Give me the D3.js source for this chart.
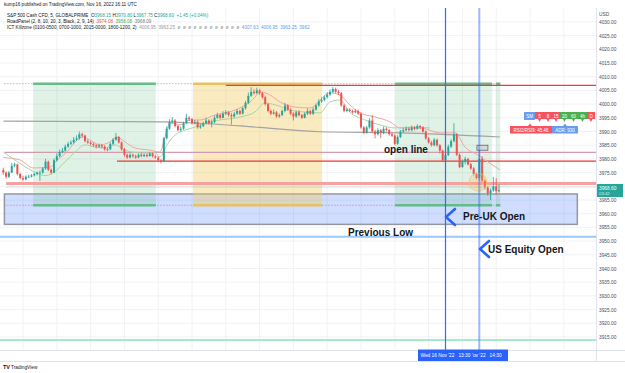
<!DOCTYPE html>
<html>
<head>
<meta charset="utf-8">
<script src="https://cdn.jsdelivr.net/npm/d3@7"></script>
<style>
  body { margin: 0; background: #fff; }
  svg { display: block; font-family: "Liberation Sans", Arial, sans-serif; }
</style>
</head>
<body>
<div id="chart"></div>
<script>
// 5 minute bars, first bar at 00:25
const firstBarHour = 25 / 60;
const barHours = 5 / 60;
const firstOpen = 3976;

const closes = [
  3975, 3973.5, 3975, 3977.5, 3978, 3974.5, 3973, 3972.5, 3973.5, 3973.5, 3974, 3974.5,
  3975, 3975, 3976.5, 3979, 3976, 3975, 3979.5, 3981, 3982.5, 3983, 3984.5, 3985.5,
  3986, 3987, 3987.5, 3989, 3988.5, 3986.5, 3986, 3985.5, 3985, 3984.5, 3985, 3984.5,
  3983.5, 3983.5, 3985.5, 3987, 3988, 3986, 3983.5, 3981.5, 3980.5, 3981.5, 3981, 3980.5,
  3981.5, 3981, 3981.5, 3981, 3982, 3981, 3980.5, 3979.5, 3979, 3987.5, 3991, 3993.5,
  3994, 3992, 3990.5, 3991, 3993, 3995, 3994.5, 3993, 3993.5, 3991.5, 3992, 3993,
  3994, 3993, 3993.5, 3995, 3996, 3995, 3996.5, 3997, 3996, 3995.5, 3996.5, 3997.5,
  3996.5, 3998.5, 4000.5, 4003, 4004.5, 4004, 4005, 4004, 4002.5, 4000, 3997.5, 3996.5,
  3997, 3995.5, 3996, 3997.5, 3999.5, 3998, 3996.5, 3995.5, 3997, 3996, 3995, 3996.5,
  3997.5, 3996.5, 3998, 3999.5, 4001, 4001.5, 4002.5, 4003.5, 4004.5, 4005.5, 4004.5, 4004,
  3999.5, 3997.5, 3998, 3997.5, 3997, 3997.5, 3996.5, 3991.5, 3989.5, 3991.5, 3994, 3990,
  3989, 3990.5, 3989.5, 3991, 3990.5, 3989, 3988.5, 3985.5, 3988, 3990, 3990.5, 3991,
  3990.5, 3991.5, 3991, 3992, 3991.5, 3990, 3987.5, 3986, 3985, 3987, 3985, 3983,
  3979.5, 3981.5, 3984.5, 3986.5, 3989, 3981.5, 3977, 3979, 3980, 3978, 3976.5, 3974.5,
  3973, 3980, 3972, 3969.5, 3967.5, 3968.5, 3970, 3968.2, 3968.6
];
const highs = [
  3976.8, 3975.5, 3975.6, 3978.5, 3978.6, 3978.3, 3975, 3973.8, 3974, 3974.2, 3974.5, 3975,
  3975.4, 3975.8, 3977, 3980, 3979.4, 3976.5, 3980.2, 3982, 3983.4, 3984, 3985.2, 3986.2,
  3986.8, 3988, 3988.6, 3990, 3989.6, 3988.8, 3987.2, 3986.5, 3986, 3985.4, 3985.6, 3985.5,
  3985, 3984.2, 3986, 3987.6, 3989.5, 3988.4, 3986.4, 3984, 3982, 3982.2, 3982, 3981.6,
  3982, 3982.2, 3982, 3982, 3982.5, 3982.4, 3981.5, 3981, 3980, 3988, 3991.8, 3994.5,
  3995.2, 3994.5, 3992.4, 3991.8, 3993.6, 3996.5, 3995.6, 3995, 3994.2, 3994, 3992.8, 3993.6,
  3995, 3994.5, 3994.4, 3995.8, 3996.8, 3996.4, 3997.4, 3997.8, 3997.5, 3996.8, 3997.2, 3998.2,
  3998, 3999, 4001.2, 4004.2, 4006.2, 4005.4, 4006, 4005.6, 4004.4, 4003, 4000.4, 3998,
  3998, 3997.5, 3996.6, 3998, 4000.5, 4000, 3998.4, 3997, 3997.6, 3997.8, 3996.4, 3997,
  3998.4, 3998, 3998.8, 4000.2, 4001.8, 4002.5, 4003.2, 4004.4, 4005.4, 4006.2, 4006, 4005.2,
  4004.4, 4000, 3998.6, 3998.5, 3998, 3998.2, 3998, 3997, 3992, 3992, 3994.8, 3996,
  3990.6, 3991.2, 3991, 3991.8, 3991.6, 3991, 3989.6, 3989, 3988.6, 3990.6, 3991.4, 3991.8,
  3991.6, 3992.2, 3992, 3992.6, 3992.4, 3992, 3990.4, 3988, 3986.6, 3987.6, 3987.4, 3985.4,
  3983.4, 3982, 3985.2, 3987.2, 3993, 3989.4, 3982, 3979.8, 3980.8, 3980.4, 3978.5, 3977,
  3975, 3983.6, 3981, 3972.5, 3970, 3969.2, 3973.4, 3973, 3970.8
];
const lows = [
  3974.2, 3972.8, 3973, 3974.8, 3977, 3974, 3972.6, 3972, 3972.2, 3973, 3973.2, 3973.6,
  3974, 3972, 3974.6, 3976, 3975.6, 3974.4, 3974.8, 3979, 3980.6, 3982, 3982.6, 3984,
  3985, 3985.6, 3986.5, 3987, 3987.8, 3986, 3985.5, 3984.8, 3984.4, 3983.8, 3984, 3983.8,
  3983, 3982.8, 3983.2, 3985, 3986.6, 3985.6, 3983, 3980.8, 3980, 3980.2, 3980.4, 3980,
  3980.2, 3980.6, 3980.6, 3980.5, 3980.8, 3980.5, 3980, 3979, 3978.3, 3978.8, 3987, 3990.6,
  3993, 3991.5, 3990, 3990, 3990.6, 3992.6, 3993.8, 3992.5, 3992.6, 3991, 3991, 3991.6,
  3992.6, 3992.5, 3991.5, 3993, 3994.6, 3994.5, 3994.8, 3996, 3995.4, 3992.5, 3995, 3996,
  3996, 3996.2, 3998, 4000, 4002.6, 4003.5, 4003.6, 4003.4, 4002, 3999.5, 3997, 3996,
  3996.2, 3995, 3995, 3995.6, 3997, 3997.5, 3996, 3994, 3995, 3995.5, 3994.6, 3994.8,
  3996, 3996, 3996, 3997.6, 3999, 4000.5, 4001, 4002, 4003, 4004, 4004, 4003.4,
  3999, 3997, 3997, 3997, 3996.5, 3996.6, 3996, 3991, 3989, 3989.2, 3991, 3989.5,
  3987.5, 3988.5, 3987.6, 3989, 3990, 3988.5, 3988, 3985, 3985.2, 3987.6, 3989.6, 3990,
  3990, 3990, 3990.4, 3990.6, 3990.8, 3989.5, 3987, 3985.6, 3984.5, 3984.6, 3984.4, 3982,
  3979, 3979, 3981, 3984, 3986, 3981, 3976.6, 3976.8, 3978, 3977.6, 3976, 3974,
  3972.5, 3972, 3971.5, 3968.8, 3966.5, 3965, 3968, 3967, 3967.75
];

// RoadPanel bands and slow average, read as [hour, price]
const upperBand = [
  [0.42, 3980.5], [0.91, 3979.6], [1.30, 3976.7], [1.80, 3977.0], [2.01, 3979.6], [2.30, 3982.5],
  [2.60, 3986.9], [2.78, 3988.0], [2.98, 3986.9], [3.28, 3985.1], [3.57, 3986.2], [3.78, 3988.0],
  [4.02, 3986.2], [4.31, 3984.0], [4.76, 3983.2], [5.05, 3982.5], [5.20, 3988.0], [5.35, 3993.1],
  [5.64, 3992.4], [5.94, 3994.2], [6.24, 3994.2], [6.68, 3996.0], [7.27, 3997.8], [7.72, 4000.8],
  [8.07, 4004.4], [8.31, 4003.3], [8.60, 4000.8], [9.05, 3998.9], [9.49, 3998.6], [10.08, 4004.1],
  [10.38, 4003.3], [10.67, 3999.7], [10.97, 3996.8], [11.41, 3995.3], [11.86, 3993.5], [12.15, 3991.3],
  [12.75, 3991.3], [13.34, 3989.5], [13.78, 3989.5], [14.08, 3984.3], [14.46, 3981.4], [14.67, 3979.6],
  [15.11, 3976.0]
];
const lowerBand = [
  [0.42, 3982.5], [0.76, 3979.6], [1.30, 3975.5], [1.65, 3973.9], [1.89, 3974.9], [2.24, 3978.9],
  [2.54, 3982.5], [2.83, 3985.1], [3.13, 3984.3], [3.43, 3984.0], [3.72, 3985.1], [4.02, 3983.2],
  [4.46, 3982.2], [4.91, 3982.2], [5.05, 3980.7], [5.26, 3985.1], [5.50, 3988.7], [5.79, 3990.5],
  [6.09, 3991.6], [6.38, 3993.1], [6.83, 3994.2], [7.43, 3995.3], [7.86, 3997.1], [8.16, 4000.4],
  [8.46, 3999.7], [8.90, 3997.8], [9.34, 3997.1], [9.79, 3996.8], [10.08, 4000.8], [10.38, 4001.5],
  [10.67, 3997.1], [11.12, 3994.2], [11.56, 3992.4], [12.01, 3991.3], [12.45, 3991.6], [13.04, 3991.3]
];
const slowAverage = [
  [0.42, 3993.8], [3.28, 3993.6], [5.05, 3993.5], [6.09, 3993.1], [8.0, 3991.5],
  [9.79, 3989.9], [12.15, 3989.5], [15.11, 3988.0]
];

// killzone sessions (hours)
const sessionStart = [1.30, 6.03, 12.01, 14.99];
const sessionEnd = [4.93, 9.85, 14.88, 15.12];
const sessionKind = ["green", "yellow", "green", "green"];
const killzoneHigh = 4007.63;
const killzoneLow = 3963.25;

// horizontal levels
const redTopLevel = 4006.8;
const openLevel = 3982.4;
const redMidLevel = 3979.2;
const redLowLevel = 3971.0;
const priceLineLevel = 3969.7;
const previousLow = 3951.6;
const deepLevel = 3913.9;
const preUkTop = 3967.2;
const preUkBottom = 3956.1;

const markerHours = [13.5, 14.5];
const hourTicks = [1, 2, 3, 4, 5, 6, 7, 8, 9, 10, 11, 12, 16, 17, 18];
const priceTicks = d3.range(3915, 4031, 5);
const lastPrice = 3968.60;

const W = 625, H = 373;
const paneRight = 596, paneTop = 8, paneBottom = 350;

const svg = d3.select("#chart").append("svg")
  .attr("width", W).attr("height", H);

const x = d3.scaleLinear().domain([1, 18]).range([23, 23 + 17 * 33.8]);
const y = d3.scaleLinear().domain([3915, 4030]).range([337, 337 - 115 * 2.74]);

svg.append("defs").append("clipPath").attr("id", "pane")
  .append("rect").attr("x", 0).attr("y", paneTop)
  .attr("width", paneRight).attr("height", paneBottom - paneTop);

// grid
const grid = svg.append("g").attr("clip-path", "url(#pane)");
grid.selectAll("line.h").data(priceTicks).join("line")
  .attr("x1", 0).attr("x2", paneRight)
  .attr("y1", d => y(d)).attr("y2", d => y(d))
  .attr("stroke", "#f0f2f5").attr("stroke-width", 1);
grid.selectAll("line.v").data(d3.range(1, 19)).join("line")
  .attr("x1", d => x(d)).attr("x2", d => x(d))
  .attr("y1", paneTop).attr("y2", paneBottom)
  .attr("stroke", "#f0f2f5").attr("stroke-width", 1);

const pane = svg.append("g").attr("clip-path", "url(#pane)");

// Pre-UK open zone
pane.append("rect")
  .attr("x", x(0.45)).attr("y", y(preUkTop))
  .attr("width", x(17.4) - x(0.45)).attr("height", y(preUkBottom) - y(preUkTop))
  .attr("fill", "rgba(41,98,255,0.22)")
  .attr("stroke", "#9598a1").attr("stroke-width", 1.5);

// sessions
const fillOf = { green: "rgba(100,185,130,0.2)", yellow: "rgba(240,200,90,0.38)" };
const edgeOf = { green: "#66bb8a", yellow: "#e6c260" };
const sessions = sessionStart.map((s, i) => ({ s, e: sessionEnd[i], k: sessionKind[i] }));
pane.selectAll("rect.session").data(sessions).join("rect")
  .attr("x", d => x(d.s)).attr("width", d => x(d.e) - x(d.s))
  .attr("y", y(killzoneHigh)).attr("height", y(killzoneLow) - y(killzoneHigh))
  .attr("fill", d => fillOf[d.k]);
[killzoneHigh, killzoneLow].forEach(p => {
  pane.append("line")
    .attr("x1", x(0.45)).attr("x2", x(15.12))
    .attr("y1", y(p) + 0.5).attr("y2", y(p) + 0.5)
    .attr("stroke", "#9598a1").attr("stroke-width", 1).attr("stroke-dasharray", "1,2");
  pane.selectAll(null).data(sessions).join("line")
    .attr("x1", d => x(d.s)).attr("x2", d => x(d.e))
    .attr("y1", y(p) + 0.5).attr("y2", y(p) + 0.5)
    .attr("stroke", d => edgeOf[d.k]).attr("stroke-width", 2.5);
});

// horizontal levels
function hline(p, x0, color, width, dash) {
  pane.append("line")
    .attr("x1", x0).attr("x2", paneRight)
    .attr("y1", y(p)).attr("y2", y(p))
    .attr("stroke", color).attr("stroke-width", width)
    .attr("stroke-dasharray", dash || null);
}
hline(redTopLevel, x(7.0), "#ef3b3b", 1.3);
hline(openLevel, x(0.45), "#d39ab0", 1.3);
hline(redMidLevel, x(3.78), "#e53935", 1.4);
hline(redLowLevel, x(0.5), "#f6a0a0", 3);
hline(priceLineLevel, x(0.5), "rgba(120,190,160,0.35)", 1);
hline(previousLow, 0, "#9cc8f5", 2);
hline(deepLevel, 0, "#a6ebc9", 2);

// lines
const line = d3.line().x(d => x(d[0])).y(d => y(d[1])).curve(d3.curveMonotoneX);
pane.append("path").datum(slowAverage).attr("d", line)
  .attr("fill", "none").attr("stroke", "#a3a3a3").attr("stroke-width", 1.2);
pane.append("path").datum(upperBand).attr("d", line)
  .attr("fill", "none").attr("stroke", "#f4a4a4").attr("stroke-width", 1);
pane.append("path").datum(lowerBand).attr("d", line)
  .attr("fill", "none").attr("stroke", "#a9d6a3").attr("stroke-width", 1);

// candles
const bars = closes.map((c, i) => ({
  t: firstBarHour + i * barHours,
  o: i === 0 ? firstOpen : closes[i - 1],
  h: highs[i], l: lows[i], c
}));
const up = "#26a69a", down = "#ef5350";
const cg = pane.append("g");
cg.selectAll("line").data(bars).join("line")
  .attr("x1", d => x(d.t)).attr("x2", d => x(d.t))
  .attr("y1", d => y(d.h)).attr("y2", d => y(d.l))
  .attr("stroke", d => d.c >= d.o ? up : down).attr("stroke-width", 0.8);
cg.selectAll("rect").data(bars).join("rect")
  .attr("x", d => x(d.t) - 1).attr("width", 2)
  .attr("y", d => y(Math.max(d.o, d.c)))
  .attr("height", d => Math.max(0.8, Math.abs(y(d.o) - y(d.c))))
  .attr("fill", d => d.c >= d.o ? up : down);

// highlight circle and marker box near the US open bar
pane.append("circle")
  .attr("cx", x(14.46)).attr("cy", y(3971.5)).attr("r", 9)
  .attr("fill", "rgba(255,180,80,0.25)").attr("stroke", "rgba(240,200,100,0.7)");
pane.append("rect")
  .attr("x", x(14.43)).attr("y", y(3985)).attr("width", 11).attr("height", 5)
  .attr("fill", "#d6d8dd").attr("stroke", "#555").attr("stroke-width", 0.7);

// vertical markers
pane.append("line").attr("x1", Math.round(x(markerHours[0])) + 0.5).attr("x2", Math.round(x(markerHours[0])) + 0.5)
  .attr("y1", paneTop).attr("y2", paneBottom)
  .attr("stroke", "#2f6bff").attr("stroke-width", 1.2);
pane.append("line").attr("x1", x(markerHours[1])).attr("x2", x(markerHours[1]))
  .attr("y1", paneTop).attr("y2", paneBottom)
  .attr("stroke", "rgba(41,98,255,0.45)").attr("stroke-width", 2);

// chevrons and annotations
function chevron(cx, cy) {
  pane.append("path")
    .attr("d", `M${cx + 5},${cy - 8} L${cx - 4},${cy} L${cx + 5},${cy + 8}`)
    .attr("fill", "none").attr("stroke", "#2962ff").attr("stroke-width", 2.6)
    .attr("stroke-linecap", "round").attr("stroke-linejoin", "round");
}
chevron(450, 217);
chevron(484, 249);
const note = (tx, ty, s) => pane.append("text").attr("x", tx).attr("y", ty)
  .attr("font-size", 10).attr("font-weight", "bold").attr("fill", "#131722").text(s);
note(384, 153, "open line");
note(348, 236, "Previous Low");
note(463, 219.5, "Pre-UK Open");
note(488, 252.5, "US Equity Open");

// trend panel widget
const cellLabels = ["SM", "5", "8", "15", "20", "60", "4h", "D"];
const cellColors = ["#6a9cf0", "#f7525f", "#f7525f", "#f7525f", "#4caf50", "#4caf50", "#4caf50", "#f7525f"];
const cellWidths = [11, 9, 8, 8, 9, 9, 9, 8];
let cx0 = 524;
cellLabels.forEach((lab, i) => {
  const w = cellWidths[i];
  const g = svg.append("g");
  if (i === 0) {
    g.append("rect").attr("x", cx0).attr("y", 112).attr("width", w).attr("height", 8).attr("fill", cellColors[i]);
  } else {
    g.append("path")
      .attr("d", `M${cx0},112 h${w} v7 l${-w / 2 + 1.5},0 l-1.5,3 l-1.5,-3 L${cx0},119 Z`)
      .attr("fill", cellColors[i]);
  }
  g.append("text").attr("x", cx0 + w / 2).attr("y", 118).attr("text-anchor", "middle")
    .attr("font-size", 4.5).attr("fill", "#fff").text(lab);
  cx0 += w;
});
svg.append("path").attr("d", "M528,126 l2,-2.5 l2,2.5 Z").attr("fill", "#f7525f");
svg.append("rect").attr("x", 510).attr("y", 126).attr("width", 42).attr("height", 7.5).attr("fill", "#f7525f");
svg.append("text").attr("x", 531).attr("y", 131.6).attr("text-anchor", "middle")
  .attr("font-size", 4.5).attr("fill", "#fff").text("RSI2/RSI9: 45.46");
svg.append("path").attr("d", "M563,126 l2,-2.5 l2,2.5 Z").attr("fill", "#6a9cf0");
svg.append("rect").attr("x", 552).attr("y", 126).attr("width", 26).attr("height", 7.5).attr("fill", "#6a9cf0");
svg.append("text").attr("x", 565).attr("y", 131.6).attr("text-anchor", "middle")
  .attr("font-size", 4.5).attr("fill", "#fff").text("ADR: 930");

// right price axis
svg.append("line").attr("x1", paneRight + 0.5).attr("x2", paneRight + 0.5)
  .attr("y1", 8).attr("y2", 361).attr("stroke", "#e0e3eb");
const yAxis = svg.append("g").attr("transform", `translate(${paneRight},0)`)
  .call(d3.axisRight(y).tickValues(priceTicks).tickFormat(d3.format(".2f")).tickSize(0).tickPadding(3));
yAxis.select(".domain").remove();
yAxis.selectAll("text").attr("font-size", 4.8).attr("fill", "#4a4e58")
  .attr("font-family", "Liberation Sans, Arial, sans-serif");
svg.append("text").attr("x", 599).attr("y", 15.5).attr("font-size", 4.8).attr("fill", "#4a4e58").text("USD");

// last price tag
svg.append("rect").attr("x", paneRight + 1).attr("y", 184).attr("width", 26).attr("height", 13).attr("fill", "#26a69a");
svg.append("text").attr("x", 599).attr("y", 189.8).attr("font-size", 4.8).attr("fill", "#fff").text(lastPrice.toFixed(2));
svg.append("text").attr("x", 599).attr("y", 195.3).attr("font-size", 4.3).attr("fill", "#d8f3ef").text("03:42");

// bottom time axis
svg.append("line").attr("x1", 0).attr("x2", W).attr("y1", paneBottom + 0.5).attr("y2", paneBottom + 0.5).attr("stroke", "#e0e3eb");
svg.append("line").attr("x1", 0).attr("x2", W).attr("y1", 361.5).attr("y2", 361.5).attr("stroke", "#e0e3eb");
svg.append("defs").append("clipPath").attr("id", "taxis")
  .append("rect").attr("x", 0).attr("y", paneBottom).attr("width", paneRight).attr("height", 12);
const xAxis = svg.append("g").attr("clip-path", "url(#taxis)")
  .attr("transform", `translate(0,${paneBottom})`)
  .call(d3.axisBottom(x).tickValues(hourTicks)
    .tickFormat(d => String(d).padStart(2, "0") + ":00").tickSize(0).tickPadding(4));
xAxis.select(".domain").remove();
xAxis.selectAll("text").attr("font-size", 4.8).attr("fill", "#4a4e58")
  .attr("font-family", "Liberation Sans, Arial, sans-serif");

// crosshair date labels
svg.append("rect").attr("x", 418).attr("y", 349.5).attr("width", 90).attr("height", 11.5).attr("fill", "#2962ff");
svg.append("text").attr("x", 420.5).attr("y", 357).attr("font-size", 4.8).attr("fill", "#fff")
  .attr("xml:space", "preserve").text("Wed 16 Nov '22   13:30");
svg.append("text").attr("x", 472).attr("y", 357).attr("font-size", 4.8).attr("fill", "#fff")
  .attr("xml:space", "preserve").text("'ov '22   14:30");

// header / legend
const hdr = svg.append("g").attr("font-size", 4.6).attr("fill", "#131722");
hdr.append("text").attr("x", 4).attr("y", 6).text("kump16 published on TradingView.com, Nov 16, 2022 16:11 UTC");
const l1 = hdr.append("text").attr("x", 7).attr("y", 16.5).attr("xml:space", "preserve");
l1.append("tspan").text("S&P 500 Cash CFD, 5, GLOBALPRIME  O");
l1.append("tspan").attr("fill", "#26a69a").text("3968.15");
l1.append("tspan").text(" H");
l1.append("tspan").attr("fill", "#26a69a").text("3970.80");
l1.append("tspan").text(" L");
l1.append("tspan").attr("fill", "#26a69a").text("3967.75");
l1.append("tspan").text(" C");
l1.append("tspan").attr("fill", "#26a69a").text("3968.60  +1.45 (+0.04%)");
const l2 = hdr.append("text").attr("x", 7).attr("y", 22.5).attr("xml:space", "preserve");
l2.append("tspan").text("RoadPanel (2, 8, 10, 20, 3, Black, 2, 9, 14)  ");
l2.append("tspan").attr("fill", "#ef5350").text("3974.08  ");
l2.append("tspan").attr("fill", "#4caf50").text("3958.08  ");
l2.append("tspan").attr("fill", "#787b86").text("3968.09");
const l3 = hdr.append("text").attr("x", 7).attr("y", 28.5).attr("xml:space", "preserve");
l3.append("tspan").text("ICT Killzone (0100-0500, 0700-1000, 2015-0000, 1800-1200, 2)  ");
l3.append("tspan").attr("fill", "#9598a1").text("4006.95  3963.25  ø  ø  ø  ø  ø  ø  ø  ø  ø  ø  ø  ø  ");
l3.append("tspan").attr("fill", "#5b9cf6").text("4007.63  4006.95  3963.25  3962");

// footer logo
const ft = svg.append("g").attr("fill", "#131722");
ft.append("text").attr("x", 3).attr("y", 369).attr("font-size", 5.5).attr("font-weight", "bold").text("TV");
ft.append("text").attr("x", 11).attr("y", 369).attr("font-size", 4.8).text("TradingView");
</script>
</body>
</html>
